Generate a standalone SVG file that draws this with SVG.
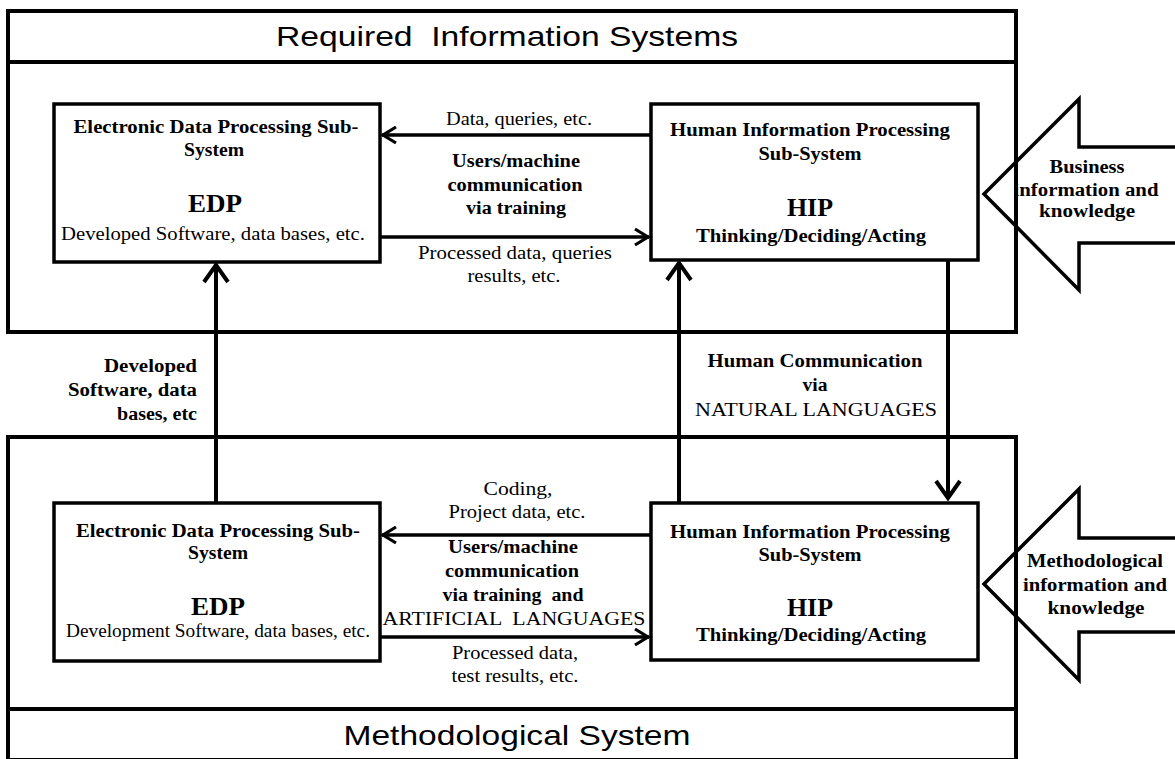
<svg xmlns="http://www.w3.org/2000/svg" width="1175" height="759" viewBox="0 0 1175 759">
<style>
.frame{fill:none;stroke:#000;stroke-width:4}
.box{fill:#fff;stroke:#000;stroke-width:3.5}
.big{fill:none;stroke:#000;stroke-width:3.5;stroke-linejoin:miter}
.con{fill:none;stroke:#000;stroke-width:4}
.conh{fill:none;stroke:#000;stroke-width:3.5}
.title{font-family:"Liberation Sans",Arial,sans-serif;font-size:28px;text-anchor:middle;fill:#000;white-space:pre}
.t{font-family:"Liberation Serif","Times New Roman",serif;font-size:18px;text-anchor:middle;fill:#000;white-space:pre}
.b{font-weight:bold}
.big-t{font-size:25px;font-weight:bold}
.end{text-anchor:end}
</style>
<defs>
<marker id="ah" viewBox="-2 -2 20 20" refX="15" refY="8" markerWidth="20" markerHeight="20" markerUnits="userSpaceOnUse" orient="auto" overflow="visible">
<path d="M1,0 L14,8 L1,16" fill="none" stroke="#000" stroke-width="3.2"/>
</marker>
<marker id="av" viewBox="-2 -2 24 28" refX="19" refY="12" markerWidth="24" markerHeight="28" markerUnits="userSpaceOnUse" orient="auto" overflow="visible">
<path d="M1,0 L18,12 L1,24" fill="none" stroke="#000" stroke-width="4"/>
</marker>
</defs>

<g id="required-system">
<rect class="frame" x="8" y="11" width="1008" height="321"/>
<line class="frame" x1="8" y1="62" x2="1016" y2="62"/>
<text class="title" x="507" y="46" textLength="462" lengthAdjust="spacingAndGlyphs">Required  Information Systems</text>
</g>

<g id="methodological-system">
<rect class="frame" x="8" y="437" width="1008" height="323"/>
<line class="frame" x1="8" y1="709" x2="1016" y2="709"/>
<text class="title" x="517" y="745" textLength="347" lengthAdjust="spacingAndGlyphs">Methodological System</text>
</g>

<g id="edp-required">
<rect class="box" x="54" y="104" width="326" height="158"/>
<text class="t b" x="216" y="133" textLength="285" lengthAdjust="spacingAndGlyphs">Electronic Data Processing Sub-</text>
<text class="t b" x="214" y="156" textLength="60" lengthAdjust="spacingAndGlyphs">System</text>
<text class="t big-t" x="215" y="212" textLength="54" lengthAdjust="spacingAndGlyphs">EDP</text>
<text class="t" x="213" y="240" textLength="304" lengthAdjust="spacingAndGlyphs">Developed Software, data bases, etc.</text>
</g>

<g id="hip-required">
<rect class="box" x="651" y="104" width="327" height="156"/>
<text class="t b" x="810" y="136" textLength="280" lengthAdjust="spacingAndGlyphs">Human Information Processing</text>
<text class="t b" x="810" y="160" textLength="103" lengthAdjust="spacingAndGlyphs">Sub-System</text>
<text class="t big-t" x="810" y="216" textLength="46" lengthAdjust="spacingAndGlyphs">HIP</text>
<text class="t b" x="811" y="242" textLength="230" lengthAdjust="spacingAndGlyphs">Thinking/Deciding/Acting</text>
</g>

<g id="edp-methodological">
<rect class="box" x="54" y="503" width="326" height="158"/>
<text class="t b" x="218" y="537" textLength="284" lengthAdjust="spacingAndGlyphs">Electronic Data Processing Sub-</text>
<text class="t b" x="218" y="559" textLength="60" lengthAdjust="spacingAndGlyphs">System</text>
<text class="t big-t" x="218" y="615" textLength="54" lengthAdjust="spacingAndGlyphs">EDP</text>
<text class="t" x="218" y="637" textLength="304" lengthAdjust="spacingAndGlyphs">Development Software, data bases, etc.</text>
</g>

<g id="hip-methodological">
<rect class="box" x="651" y="503" width="327" height="157"/>
<text class="t b" x="810" y="538" textLength="280" lengthAdjust="spacingAndGlyphs">Human Information Processing</text>
<text class="t b" x="810" y="561" textLength="103" lengthAdjust="spacingAndGlyphs">Sub-System</text>
<text class="t big-t" x="810" y="616" textLength="46" lengthAdjust="spacingAndGlyphs">HIP</text>
<text class="t b" x="811" y="641" textLength="230" lengthAdjust="spacingAndGlyphs">Thinking/Deciding/Acting</text>
</g>

<g id="business-input">
<polygon class="big" points="1178,147 1079,147 1079,99 984,194 1079,290 1079,243 1178,243"/>
<text class="t b" x="1087" y="173" textLength="75" lengthAdjust="spacingAndGlyphs">Business</text>
<text class="t b" x="1086" y="196" textLength="145" lengthAdjust="spacingAndGlyphs">information and</text>
<text class="t b" x="1087" y="217" textLength="96" lengthAdjust="spacingAndGlyphs">knowledge</text>
</g>

<g id="methodological-input">
<polygon class="big" points="1178,538 1079,538 1079,489 984,584 1079,680 1079,632 1178,632"/>
<text class="t b" x="1095" y="567" textLength="136" lengthAdjust="spacingAndGlyphs">Methodological</text>
<text class="t b" x="1095" y="591" textLength="144" lengthAdjust="spacingAndGlyphs">information and</text>
<text class="t b" x="1096" y="614" textLength="97" lengthAdjust="spacingAndGlyphs">knowledge</text>
</g>

<g id="connectors">
<line class="conh" x1="651" y1="135" x2="382" y2="135" marker-end="url(#ah)"/>
<line class="conh" x1="380" y1="237" x2="649" y2="237" marker-end="url(#ah)"/>
<line class="conh" x1="651" y1="535" x2="382" y2="535" marker-end="url(#ah)"/>
<line class="conh" x1="380" y1="637" x2="649" y2="637" marker-end="url(#ah)"/>
<line class="con" x1="216" y1="503" x2="216" y2="264" marker-end="url(#av)"/>
<line class="con" x1="679" y1="503" x2="679" y2="262" marker-end="url(#av)"/>
<line class="con" x1="948" y1="260" x2="948" y2="499" marker-end="url(#av)"/>

<text class="t" x="519" y="125" textLength="146" lengthAdjust="spacingAndGlyphs">Data, queries, etc.</text>
<text class="t b" x="516" y="167" textLength="128" lengthAdjust="spacingAndGlyphs">Users/machine</text>
<text class="t b" x="515" y="191" textLength="135" lengthAdjust="spacingAndGlyphs">communication</text>
<text class="t b" x="516" y="214" textLength="100" lengthAdjust="spacingAndGlyphs">via training</text>
<text class="t" x="515" y="259" textLength="194" lengthAdjust="spacingAndGlyphs">Processed data, queries</text>
<text class="t" x="514" y="282" textLength="93" lengthAdjust="spacingAndGlyphs">results, etc.</text>

<text class="t b end" x="197" y="372" textLength="93" lengthAdjust="spacingAndGlyphs">Developed</text>
<text class="t b end" x="197" y="396" textLength="129" lengthAdjust="spacingAndGlyphs">Software, data</text>
<text class="t b end" x="197" y="420" textLength="80" lengthAdjust="spacingAndGlyphs">bases, etc</text>

<text class="t b" x="815" y="367" textLength="215" lengthAdjust="spacingAndGlyphs">Human Communication</text>
<text class="t b" x="815" y="391" textLength="25" lengthAdjust="spacingAndGlyphs">via</text>
<text class="t" x="816" y="416" textLength="242" lengthAdjust="spacingAndGlyphs">NATURAL LANGUAGES</text>

<text class="t" x="518" y="495" textLength="69" lengthAdjust="spacingAndGlyphs">Coding,</text>
<text class="t" x="517" y="518" textLength="137" lengthAdjust="spacingAndGlyphs">Project data, etc.</text>
<text class="t b" x="513" y="553" textLength="130" lengthAdjust="spacingAndGlyphs">Users/machine</text>
<text class="t b" x="512" y="577" textLength="134" lengthAdjust="spacingAndGlyphs">communication</text>
<text class="t b" x="513" y="601" textLength="141" lengthAdjust="spacingAndGlyphs">via training  and</text>
<text class="t" x="514" y="625" textLength="263" lengthAdjust="spacingAndGlyphs">ARTIFICIAL  LANGUAGES</text>
<text class="t" x="515" y="659" textLength="126" lengthAdjust="spacingAndGlyphs">Processed data,</text>
<text class="t" x="515" y="682" textLength="127" lengthAdjust="spacingAndGlyphs">test results, etc.</text>
</g>
</svg>
